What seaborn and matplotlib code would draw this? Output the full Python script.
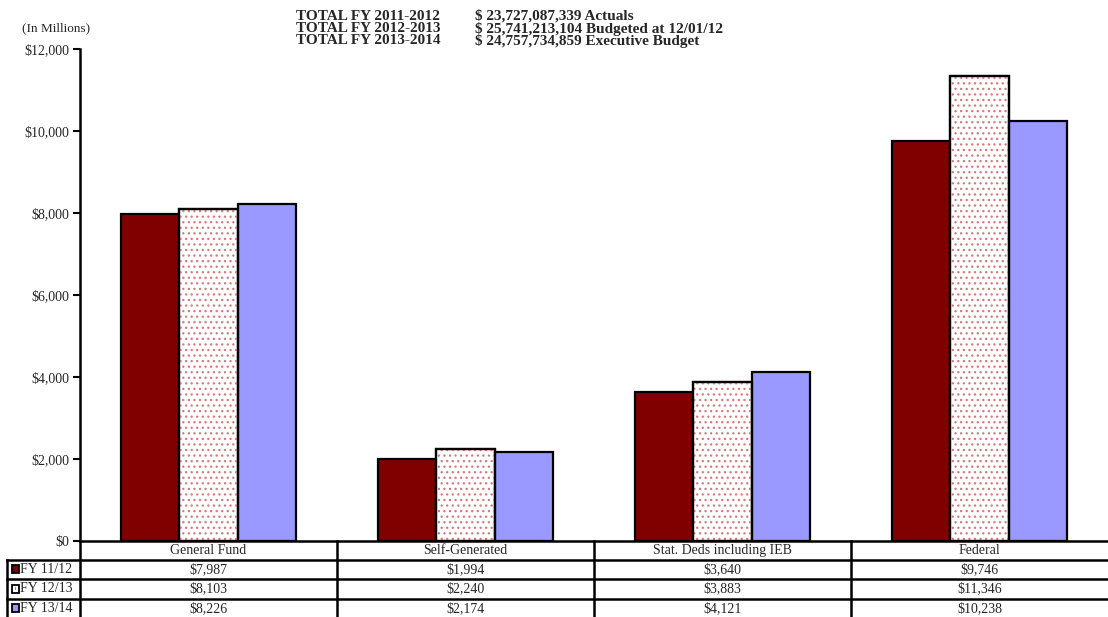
import matplotlib
matplotlib.use("Agg")
import matplotlib.pyplot as plt
import matplotlib.patches as mpatches
import numpy as np
import pandas as pd
import seaborn as sns

# Budget by means of financing (in millions)
categories = ["General Fund", "Self-Generated", "Stat. Deds including IEB", "Federal"]
years = ["FY 11/12", "FY 12/13", "FY 13/14"]
fy_11_12 = [7987, 1994, 3640, 9746]
fy_12_13 = [8103, 2240, 3883, 11346]
fy_13_14 = [8226, 2174, 4121, 10238]
y_ticks = [0, 2000, 4000, 6000, 8000, 10000, 12000]

totals_labels = ["TOTAL FY 2011-2012", "TOTAL FY 2012-2013", "TOTAL FY 2013-2014"]
totals_values = ["$ 23,727,087,339 Actuals",
                 "$ 25,741,213,104 Budgeted at 12/01/12",
                 "$ 24,757,734,859 Executive Budget"]

colors = {"FY 11/12": "#800000", "FY 12/13": "#ffffff", "FY 13/14": "#9999ff"}
dot_color = "#d87878"

series = {"FY 11/12": fy_11_12, "FY 12/13": fy_12_13, "FY 13/14": fy_13_14}
df = pd.DataFrame(
    [(c, y, v) for y in years for c, v in zip(categories, series[y])],
    columns=["category", "year", "value"],
)

sns.set_theme(style="white")
plt.rcParams["font.family"] = ["Liberation Serif", "DejaVu Serif"]
plt.rcParams["hatch.linewidth"] = 0.9

W, H = 1108, 617
fig = plt.figure(figsize=(W / 100, H / 100), dpi=100)

ax_left = 80 / W
ax_bottom = (H - 541) / H
ax_height = (541 - 49) / H
ax = fig.add_axes([ax_left, ax_bottom, 1 - ax_left, ax_height])

sns.barplot(data=df, x="category", y="value", hue="year", order=categories,
            hue_order=years, palette=colors, saturation=1, width=0.68,
            edgecolor="black", linewidth=1.6, legend=False, ax=ax)

# dotted fill for the FY 12/13 bars
n = len(categories)
for p in ax.patches[n:2 * n]:
    overlay = mpatches.Rectangle(p.get_xy(), p.get_width(), p.get_height(),
                                 facecolor="none", edgecolor=dot_color,
                                 hatch="...", linewidth=0, zorder=p.get_zorder() + 0.1)
    ax.add_patch(overlay)
    outline = mpatches.Rectangle(p.get_xy(), p.get_width(), p.get_height(),
                                 facecolor="none", edgecolor="black",
                                 linewidth=1.6, zorder=p.get_zorder() + 0.2)
    ax.add_patch(outline)

ax.set_xlim(-0.5, n - 0.5)
ax.set_ylim(0, 12000)
ax.set_yticks(y_ticks)
ax.set_yticklabels([f"${v:,}" for v in y_ticks], fontsize=10)
ax.set_xticks([])
ax.set_xlabel("")
ax.set_ylabel("")
for s in ["top", "right", "bottom"]:
    ax.spines[s].set_visible(False)
ax.spines["left"].set_linewidth(1.8)
ax.spines["left"].set_color("black")
ax.tick_params(axis="y", direction="out", length=5, width=1.5, color="black",
               pad=3, left=True)

fig.text(22 / W, 1 - 28 / H, "(In Millions)", fontsize=9.5, va="center", ha="left")
for i, (lab, val) in enumerate(zip(totals_labels, totals_values)):
    yy = 1 - (16 + 12.5 * i) / H
    fig.text(296 / W, yy, lab, fontsize=11, fontweight="bold", va="center")
    fig.text(475 / W, yy, val, fontsize=11, fontweight="bold", va="center")

# data table beneath the chart
row_h = 19.2
tab = fig.add_axes([ax_left, 0, 1 - ax_left, (H - 541) / H])
tab.set_xlim(-0.5, n - 0.5)
tab.set_ylim((H - 541) / row_h, 0)
tab.axis("off")
px = 1 / 257.0  # category units per pixel
lab_left = -0.5 - 73 * px
lw = 1.8
kw = dict(color="black", linewidth=lw, clip_on=False, solid_capstyle="projecting")
tab.plot([-0.5, n - 0.5], [0, 0], **kw)
for r in (1, 2, 3):
    tab.plot([lab_left, n - 0.5], [r, r], **kw)
for i in range(n):
    tab.plot([i - 0.5, i - 0.5], [0, 4.2], **kw)
tab.plot([lab_left, lab_left], [1, 4.2], **kw)
for i, c in enumerate(categories):
    tab.text(i, 0.5, c, ha="center", va="center", fontsize=10)
for r, y in enumerate(years, start=1):
    for i, v in enumerate(series[y]):
        tab.text(i, r + 0.5, f"${v:,}", ha="center", va="center", fontsize=10)
    sw = 7 * px
    sx = lab_left + 5 * px
    tab.add_patch(mpatches.Rectangle((sx, r + 0.27), sw, 0.42, facecolor=colors[y],
                                     edgecolor="black", linewidth=1.3, clip_on=False))
    if y == "FY 12/13":
        tab.add_patch(mpatches.Rectangle((sx + 2.5 * px, r + 0.42), 2 * px, 0.12,
                                         facecolor=dot_color, linewidth=0, clip_on=False))
    tab.text(sx + sw + 0.5 * px, r + 0.5, y, ha="left", va="center", fontsize=10)

fig.savefig("out.png", dpi=100)
